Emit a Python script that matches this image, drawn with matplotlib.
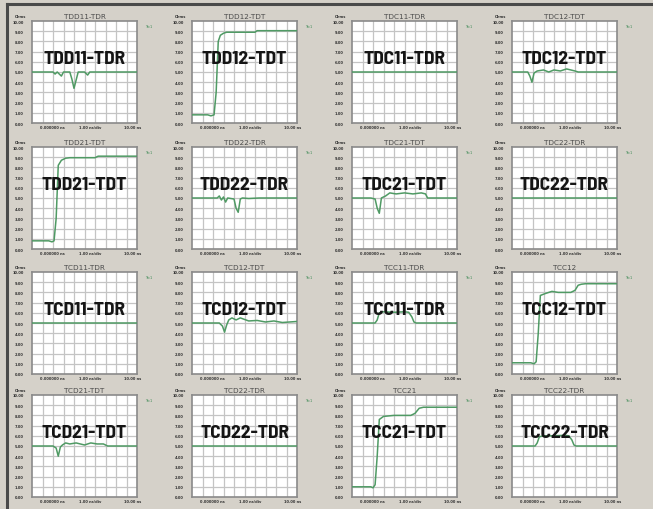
import matplotlib
matplotlib.use('Agg')
import matplotlib.pyplot as plt
from matplotlib.lines import Line2D

W, H = 653, 510

# panel titles (small) and big overlay labels, row by row
titles = ['TDD11-TDR', 'TDD12-TDT', 'TDC11-TDR', 'TDC12-TDT',
          'TDD21-TDT', 'TDD22-TDR', 'TDC21-TDT', 'TDC22-TDR',
          'TCD11-TDR', 'TCD12-TDT', 'TCC11-TDR', 'TCC12',
          'TCD21-TDT', 'TCD22-TDR', 'TCC21', 'TCC22-TDR']
labels = ['TDD11-TDR', 'TDD12-TDT', 'TDC11-TDR', 'TDC12-TDT',
          'TDD21-TDT', 'TDD22-TDR', 'TDC21-TDT', 'TDC22-TDR',
          'TCD11-TDR', 'TCD12-TDT', 'TCC11-TDR', 'TCC12-TDT',
          'TCD21-TDT', 'TCD22-TDR', 'TCC21-TDT', 'TCC22-TDR']

# traces in grid divisions (x 0..10, y 0..10)
tdd11_x = [0, 2.0, 2.2, 2.4, 2.8, 3.0, 3.6, 3.8, 4.0, 4.2, 4.4, 5.0, 5.3, 5.5, 6.0, 10]
tdd11_y = [5, 5, 4.8, 5, 4.6, 5, 5, 4.3, 3.4, 4.2, 5, 5, 4.7, 5, 5, 5]
tdd12_x = [0, 1.5, 1.8, 2.1, 2.3, 2.5, 2.7, 3.0, 3.3, 6.0, 6.2, 10]
tdd12_y = [0.8, 0.8, 0.7, 0.8, 3.0, 8.0, 8.6, 8.8, 8.9, 8.9, 9.05, 9.05]
tdc11_x = [0, 10]
tdc11_y = [5, 5]
tdc12_x = [0, 1.5, 1.7, 1.9, 2.1, 2.4, 3.0, 3.5, 4.0, 4.6, 5.2, 6.0, 6.3, 10]
tdc12_y = [5, 5, 4.6, 4.0, 4.9, 5.1, 5.2, 5.0, 5.2, 5.1, 5.3, 5.1, 5.0, 5.0]

tdd21_x = [0, 1.6, 1.9, 2.1, 2.3, 2.5, 2.8, 3.2, 3.6, 6.0, 6.3, 10]
tdd21_y = [0.8, 0.8, 0.7, 0.8, 3.0, 8.2, 8.7, 8.9, 8.95, 8.95, 9.1, 9.1]
tdd22_x = [0, 2.4, 2.6, 2.8, 3.0, 3.2, 3.4, 4.0, 4.2, 4.4, 4.6, 4.8, 5.4, 6.4, 10]
tdd22_y = [5, 5, 5.2, 4.8, 5.1, 4.6, 5.0, 4.9, 4.0, 3.6, 4.9, 5.0, 4.95, 5.0, 5.0]
tdc21_x = [0, 1.8, 2.2, 2.4, 2.6, 2.8, 3.2, 3.6, 4.2, 5.0, 5.8, 6.6, 7.0, 7.2, 10]
tdc21_y = [5, 5, 4.9, 4.0, 3.5, 5.0, 5.2, 5.5, 5.4, 5.5, 5.4, 5.5, 5.4, 5.0, 5.0]
tdc22_x = [0, 10]
tdc22_y = [5, 5]

tcd11_x = [0, 10]
tcd11_y = [5, 5]
tcd12_x = [0, 2.6, 2.9, 3.1, 3.3, 3.5, 3.8, 4.2, 4.6, 5.4, 6.2, 7.0, 7.8, 8.6, 9.3, 10]
tcd12_y = [5, 5, 4.7, 4.1, 4.8, 5.3, 5.5, 5.3, 5.5, 5.2, 5.25, 5.1, 5.2, 5.05, 5.1, 5.15]
tcc11_x = [0, 2.2, 2.4, 2.6, 3.0, 4.0, 5.0, 5.4, 5.7, 5.9, 6.1, 10]
tcc11_y = [5, 5, 5.3, 6.0, 6.1, 6.05, 6.1, 6.05, 5.6, 5.1, 5.0, 5.0]
tcc12_x = [0, 1.8, 2.1, 2.3, 2.5, 2.7, 3.2, 3.8, 4.4, 5.6, 6.0, 6.3, 6.6, 7.0, 10]
tcc12_y = [1.1, 1.1, 1.0, 1.2, 4.0, 7.7, 7.9, 8.1, 8.0, 8.0, 8.2, 8.7, 8.8, 8.85, 8.85]

tcd21_x = [0, 2.0, 2.3, 2.5, 2.7, 2.9, 3.2, 3.6, 4.2, 5.0, 5.6, 6.2, 6.8, 7.2, 10]
tcd21_y = [5, 5, 4.8, 4.0, 4.9, 5.1, 5.3, 5.2, 5.3, 5.1, 5.3, 5.2, 5.2, 5.0, 5.0]
tcd22_x = [0, 10]
tcd22_y = [5, 5]
tcc21_x = [0, 1.8, 2.0, 2.2, 2.4, 2.6, 3.0, 4.0, 5.6, 6.0, 6.4, 6.8, 10]
tcc21_y = [1.0, 1.0, 0.9, 1.2, 4.0, 7.6, 7.9, 8.0, 8.0, 8.2, 8.7, 8.8, 8.8]
tcc22_x = [0, 2.2, 2.4, 2.6, 3.0, 4.0, 5.0, 5.4, 5.7, 5.9, 6.1, 10]
tcc22_y = [5, 5, 5.3, 5.9, 6.0, 6.0, 6.05, 6.0, 5.6, 5.1, 5.0, 5.0]

traces = [(tdd11_x, tdd11_y), (tdd12_x, tdd12_y), (tdc11_x, tdc11_y), (tdc12_x, tdc12_y),
          (tdd21_x, tdd21_y), (tdd22_x, tdd22_y), (tdc21_x, tdc21_y), (tdc22_x, tdc22_y),
          (tcd11_x, tcd11_y), (tcd12_x, tcd12_y), (tcc11_x, tcc11_y), (tcc12_x, tcc12_y),
          (tcd21_x, tcd21_y), (tcd22_x, tcd22_y), (tcc21_x, tcc21_y), (tcc22_x, tcc22_y)]

ytick_vals = [0, 1, 2, 3, 4, 5, 6, 7, 8, 9, 10]
xtick_pos = [1.9, 5.5, 9.6]
xtick_txt = ['0.000000 ns', '1.00 ns/div', '10.00 ns']

col_left = [32, 192, 352, 512]
row_top = [22, 148, 273, 396]
ax_w, ax_h = 105, 102

bg = '#d5d1c9'
fig = plt.figure(figsize=(W / 100, H / 100), dpi=100, facecolor=bg)

# window frame: dark line on left and top
fig.add_artist(Line2D([7 / W, 7 / W], [0, 1 - 5 / H], color='#4a4a4a', lw=2.2))
fig.add_artist(Line2D([7 / W, 1], [1 - 5 / H, 1 - 5 / H], color='#4a4a4a', lw=2.2))

for i in range(16):
    r, c = divmod(i, 4)
    x0 = col_left[c]
    y0 = row_top[r]
    ax = fig.add_axes([x0 / W, 1 - (y0 + ax_h) / H, ax_w / W, ax_h / H])
    ax.set_facecolor('white')
    ax.set_xlim(0, 10)
    ax.set_ylim(0, 10)
    ax.set_xticks(xtick_pos)
    ax.set_xticklabels(xtick_txt, fontsize=2.6, color='#333333', fontweight='bold')
    ax.set_yticks(ytick_vals)
    ax.set_yticklabels(['%.2f' % v for v in ytick_vals], fontsize=2.6, color='#333333',
                       fontweight='bold')
    ax.tick_params(axis='y', length=0, pad=6)
    ax.tick_params(axis='x', length=0, pad=1.5)
    for k in range(1, 10):
        ax.axvline(k, color='#c4c4c4', lw=0.9, zorder=1)
        ax.axhline(k, color='#c4c4c4', lw=0.9, zorder=1)
    for sp in ax.spines.values():
        sp.set_color('#8a8a8a')
        sp.set_linewidth(1.2)

    tx, ty = traces[i]
    ax.plot(tx, ty, color='#4f9a64', lw=1.1, zorder=3)

    ax.set_title(titles[i], fontsize=5.2, color='#4a4a4a', pad=2.5)
    ax.text(0.5, 0.63, labels[i], transform=ax.transAxes, ha='center', va='center',
            fontsize=14, fontweight='bold', color='#151515',
            family=['Barlow Semi Condensed', 'DejaVu Sans'], zorder=4)
    # unit label at top-left and trace legend at top-right
    ax.text(-0.16, 1.05, 'Ohms', transform=ax.transAxes, fontsize=2.6,
            color='#333333', fontweight='bold', ha='left', va='center')
    ax.text(1.08, 0.95, 'Trc1', transform=ax.transAxes, fontsize=2.6,
            color='#3e8a55', ha='left', va='center')

fig.savefig('out.png', dpi=100, facecolor=bg)
